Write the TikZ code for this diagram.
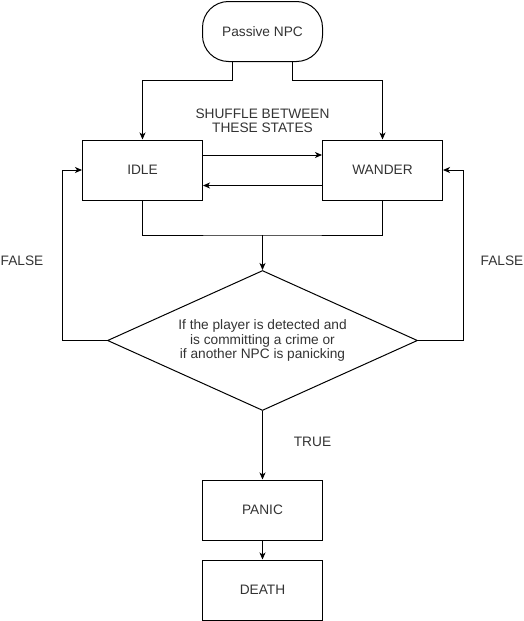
\documentclass[tikz,border=0pt]{standalone}
\usepackage{fontspec}
\setmainfont{Liberation Sans}
\usepackage{tikz}
\usetikzlibrary{calc,positioning,shapes.geometric,arrows.meta}

\tikzset{
  state/.style={draw, line width=1pt, minimum width=120pt, minimum height=60pt, inner sep=0pt},
  start/.style={state, rounded corners=26pt},
  decision/.style={draw, line width=1pt, diamond, shape aspect=2.2, minimum width=310pt, minimum height=140pt, inner sep=0pt, align=center},
  flow/.style={line width=1pt, -{Stealth[length=7pt,width=6pt,inset=2pt]}},
  plain/.style={line width=1pt},
}

\begin{document}
\begin{tikzpicture}[x=1pt,y=-1pt,font=\fontsize{13.7}{14.2}\selectfont,text=black!80]
 \useasboundingbox (0,0) rectangle (524,621);

 % nodes
 \node[start] (passive) at (262.5,31.5) {Passive NPC};
 \node[state] (idle) at (142.5,170) {IDLE};
 \node[state] (wander) at (382.5,170) {WANDER};
 \node[decision] (check) at (262.5,340.5) {If the player is detected and\\is committing a crime or\\if another NPC is panicking};
 \node[state] (panic) at (262.5,510) {PANIC};
 \node[state] (death) at (262.5,590) {DEATH};

 \node (shuffle) at (262.5,120.5) [align=center] {SHUFFLE BETWEEN\\THESE STATES};
 \node (falseL) at (22,261) {FALSE};
 \node (falseR) at (502,261) {FALSE};

 \coordinate (merge) at (262.5,235);

 % draw start branches
 \draw[flow] ([xshift=-30pt]passive.south) -- ++(0,18.5) -| (idle.north);
 \draw[flow] ([xshift=30pt]passive.south) -- ++(0,18.5) -| (wander.north);

 % draw shuffle arrows
 \draw[flow] ([yshift=15pt]idle.east) -- ([yshift=15pt]wander.west);
 \draw[flow] ([yshift=-15.5pt]wander.west) -- ([yshift=-15.5pt]idle.east);

 % draw merge into check
 \draw[plain] (idle.south) |- (merge) -| (wander.south);
 \draw[flow] (merge) -- (check.north);

 % draw false loops
 \draw[flow] (check.west) -- ++(-45,0) |- (idle.west);
 \draw[flow] (check.east) -- ++(45,0) |- (wander.east);

 % draw true path
 \draw[flow] (check.south) -- (panic.north) node[midway,xshift=50pt,yshift=3pt] (truelbl) {TRUE};
 \draw[flow] (panic.south) -- (death.north);

\end{tikzpicture}
\end{document}
